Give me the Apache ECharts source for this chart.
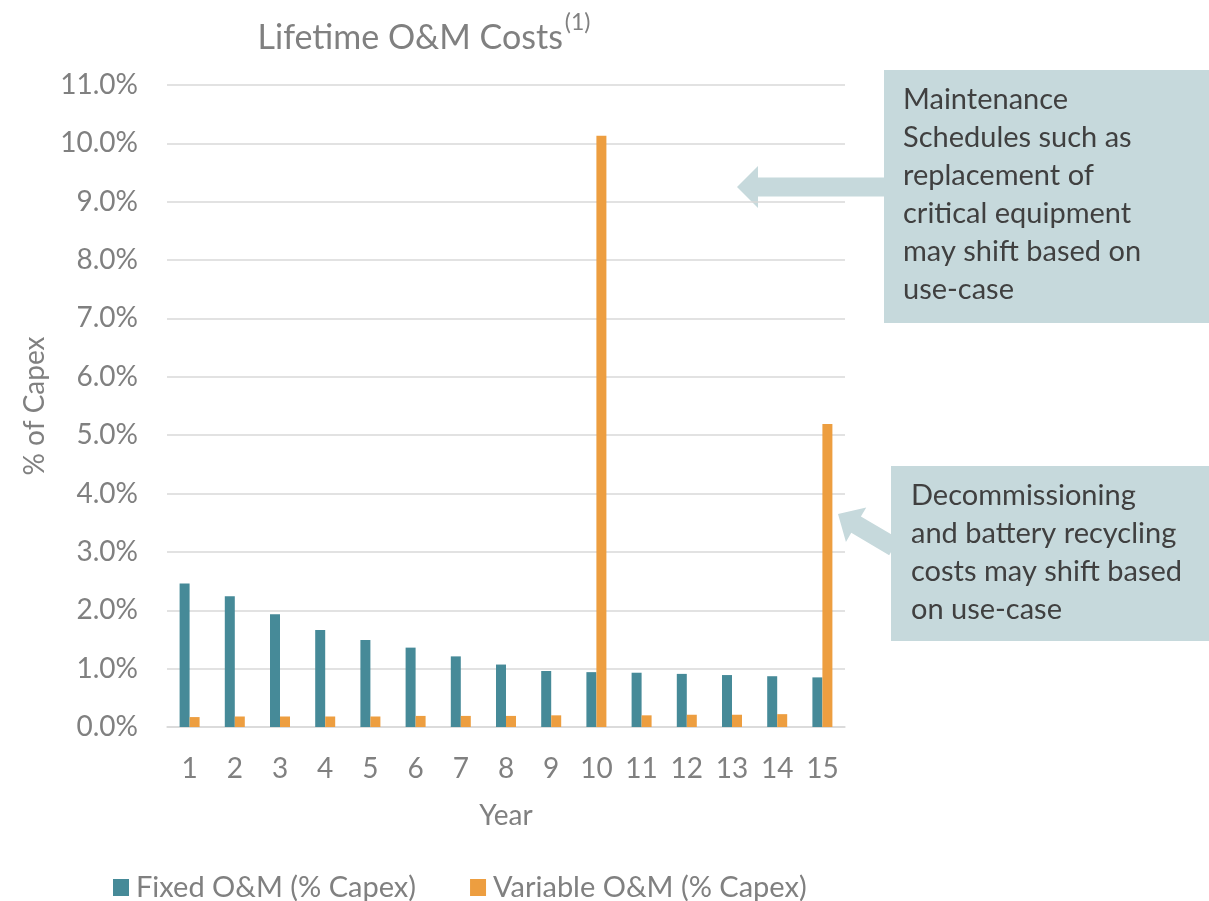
<!DOCTYPE html>
<html>
<head>
<meta charset="utf-8">
<script src="https://cdn.jsdelivr.net/npm/echarts@6/dist/echarts.min.js"></script>
<style>
  html, body { margin: 0; padding: 0; background: #fff; }
  #chart { width: 1209px; height: 901px; }
</style>
</head>
<body>
<div id="chart"></div>
<script>
const years = ['1','2','3','4','5','6','7','8','9','10','11','12','13','14','15'];
const fixedOM = [2.46, 2.24, 1.93, 1.66, 1.49, 1.36, 1.21, 1.07, 0.96, 0.94, 0.93, 0.91, 0.89, 0.87, 0.85];
const variableOM = [0.17, 0.18, 0.18, 0.18, 0.18, 0.19, 0.19, 0.19, 0.20, 10.13, 0.20, 0.21, 0.21, 0.22, 5.19];
const seriesNames = ['Fixed O&M (% Capex)', 'Variable O&M (% Capex)'];
const note1 = ['Maintenance', 'Schedules such as', 'replacement of', 'critical equipment', 'may shift based on', 'use-case'];
const note2 = ['Decommissioning', 'and battery recycling', 'costs may shift based', 'on use-case'];

const FONT = 'Lato, "Open Sans", sans-serif';
const GRAY = '#808080';
const BOX = '#C6D9DC';
const FS = 28;

function arrow(x0, y0, x1, y1, shaftW, headW, headL) {
  const dx = x1 - x0, dy = y1 - y0;
  const len = Math.sqrt(dx * dx + dy * dy);
  const ux = dx / len, uy = dy / len;
  const px = -uy, py = ux;
  const bx = x1 - ux * headL, by = y1 - uy * headL;
  const s = shaftW / 2, h = headW / 2;
  return [
    [x0 + px * s, y0 + py * s],
    [bx + px * s, by + py * s],
    [bx + px * h, by + py * h],
    [x1, y1],
    [bx - px * h, by - py * h],
    [bx - px * s, by - py * s],
    [x0 - px * s, y0 - py * s]
  ];
}

const chart = echarts.init(document.getElementById('chart'));
chart.setOption({
  animation: false,
  backgroundColor: '#fff',
  textStyle: { fontFamily: FONT },
  title: {
    text: '{t|Lifetime O&M Costs}{s|(1)}',
    left: 419,
    top: 6,
    textAlign: 'center',
    textStyle: {
      fontWeight: 'normal',
      rich: {
        t: { fontFamily: FONT, fontSize: 34, fontWeight: 'normal', color: GRAY, verticalAlign: 'bottom', lineHeight: 44 },
        s: { fontFamily: FONT, fontSize: 23, fontWeight: 'normal', color: GRAY, verticalAlign: 'top', lineHeight: 44, padding: [0, 0, 14, 2] }
      }
    }
  },
  legend: {
    left: 108,
    top: 868,
    itemWidth: 16,
    itemHeight: 17,
    itemGap: 54,
    icon: 'rect',
    textStyle: { fontFamily: FONT, fontSize: 29, color: GRAY, padding: [0, 0, 0, 2] },
    data: seriesNames
  },
  grid: { left: 167, right: 364, top: 85, bottom: 174, containLabel: false },
  xAxis: {
    type: 'category',
    data: years,
    name: 'Year',
    nameLocation: 'middle',
    nameGap: 75,
    nameTextStyle: { fontFamily: FONT, fontSize: FS, color: GRAY },
    axisLine: { show: true, lineStyle: { color: '#D9D9D9', width: 1.5 } },
    axisTick: { show: false },
    axisLabel: { fontFamily: FONT, fontSize: FS, color: GRAY, margin: 28, interval: 0 }
  },
  yAxis: {
    type: 'value',
    min: 0,
    max: 11,
    interval: 1,
    name: '% of Capex',
    nameLocation: 'middle',
    nameGap: 118,
    nameRotate: 90,
    nameTextStyle: { fontFamily: FONT, fontSize: FS, color: GRAY },
    axisLine: { show: false },
    axisTick: { show: false },
    splitLine: { lineStyle: { color: '#D9D9D9', width: 1.5 } },
    axisLabel: {
      fontFamily: FONT, fontSize: FS, color: GRAY, margin: 29,
      formatter: v => v.toFixed(1) + '%'
    }
  },
  series: [
    { name: seriesNames[0], type: 'bar', data: fixedOM, barWidth: 10, barGap: '0%', itemStyle: { color: '#468A98' } },
    { name: seriesNames[1], type: 'bar', data: variableOM, barWidth: 10, barGap: '0%', itemStyle: { color: '#ED9E40' } }
  ],
  graphic: [
    { type: 'rect', shape: { x: 884, y: 70, width: 325, height: 253 }, style: { fill: BOX } },
    { type: 'polygon', shape: { points: arrow(886, 187, 737, 187, 19, 42, 21) }, style: { fill: BOX } },
    {
      type: 'text', x: 903, y: 81,
      style: { text: note1.join('\n'), fontFamily: FONT, fontSize: 29, lineHeight: 38, fill: '#404040', textVerticalAlign: 'top' }
    },
    { type: 'rect', shape: { x: 891, y: 466, width: 318, height: 175 }, style: { fill: BOX } },
    { type: 'polygon', shape: { points: arrow(894, 547, 838, 514, 19, 40, 21) }, style: { fill: BOX } },
    {
      type: 'text', x: 911, y: 477,
      style: { text: note2.join('\n'), fontFamily: FONT, fontSize: 29, lineHeight: 38, fill: '#404040', textVerticalAlign: 'top' }
    }
  ]
});
</script>
</body>
</html>
